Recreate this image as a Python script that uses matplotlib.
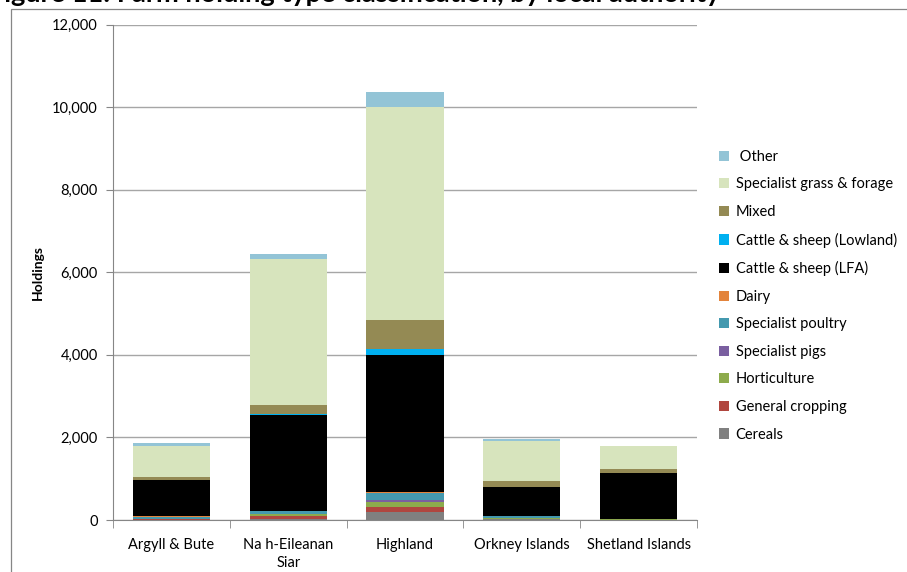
import numpy as np
import matplotlib
matplotlib.use("Agg")
import matplotlib.pyplot as plt
from matplotlib.patches import Rectangle, Patch
from matplotlib.ticker import FuncFormatter

plt.rcParams["font.family"] = ["Lato", "DejaVu Sans"]

categories = ["Argyll & Bute", "Na h-Eileanan\nSiar", "Highland", "Orkney Islands", "Shetland Islands"]

# holdings per farm type, bottom of stack first
cereals = [8, 15, 200, 25, 8]
general_cropping = [6, 70, 113, 10, 4]
horticulture = [10, 55, 121, 20, 4]
specialist_pigs = [4, 10, 56, 5, 2]
specialist_poultry = [40, 70, 160, 32, 8]
dairy = [32, 10, 20, 10, 2]
cattle_sheep_lfa = [864, 2313, 3333, 703, 1115]
cattle_sheep_lowland = [15, 20, 140, 5, 3]
mixed = [60, 227, 690, 145, 90]
grass_forage = [757, 3524, 5163, 953, 545]
other = [58, 130, 364, 48, 20]

series = [
    ("Cereals", cereals, "#808080"),
    ("General cropping", general_cropping, "#B0463F"),
    ("Horticulture", horticulture, "#8DAB4C"),
    ("Specialist pigs", specialist_pigs, "#7A5FA0"),
    ("Specialist poultry", specialist_poultry, "#4499AF"),
    ("Dairy", dairy, "#E3843C"),
    ("Cattle & sheep (LFA)", cattle_sheep_lfa, "#000000"),
    ("Cattle & sheep (Lowland)", cattle_sheep_lowland, "#00B0F0"),
    ("Mixed", mixed, "#948A54"),
    ("Specialist grass & forage", grass_forage, "#D7E4BD"),
    (" Other", other, "#93C4D6"),
]

W, H = 907, 572
fig = plt.figure(figsize=(W / 100, H / 100), dpi=100)
ax = fig.add_axes([113 / W, 1 - 520 / H, (697 - 113) / W, (520 - 24.5) / H])

x = np.arange(len(categories))
bottom = np.zeros(len(categories))
handles = []
for name, vals, col in series:
    ax.bar(x, vals, width=0.66, bottom=bottom, color=col, linewidth=0, zorder=2)
    bottom += np.array(vals, dtype=float)
    handles.append(Patch(facecolor=col, edgecolor="none", label=name))

ax.set_xlim(-0.5, len(categories) - 0.5)
ax.set_ylim(0, 12000)
ax.set_yticks(np.arange(0, 12001, 2000))
ax.yaxis.set_major_formatter(FuncFormatter(lambda v, p: f"{int(v):,}"))
ax.grid(axis="y", color="#A6A6A6", linewidth=1.0, zorder=0)

ax.set_xticks(x)
ax.set_xticklabels(categories, fontsize=10.5, linespacing=1.35)
ax.set_xticks(np.arange(-0.5, len(categories)), minor=True)
ax.tick_params(axis="x", which="major", length=0, pad=13)
ax.tick_params(axis="x", which="minor", length=6, color="#868686")
ax.tick_params(axis="y", length=5, color="#868686", labelsize=10.5, pad=6)

for s in ["top", "right"]:
    ax.spines[s].set_visible(False)
for s in ["left", "bottom"]:
    ax.spines[s].set_color("#868686")

ax.set_ylabel("Holdings", fontsize=10, fontweight="bold", labelpad=6)

ax.legend(
    handles=handles[::-1],
    loc="upper left",
    bbox_to_anchor=(713 / W, 1 - 144 / H),
    bbox_transform=fig.transFigure,
    frameon=False,
    fontsize=10.5,
    handlelength=0.7,
    handleheight=0.7,
    handletextpad=0.45,
    labelspacing=0.93,
    borderaxespad=0,
)

# chart frame and cropped title
fig.patches.append(Rectangle((10.5 / W, -0.1), 2, 1.1 - 8.5 / H, transform=fig.transFigure,
                             fill=False, edgecolor="#868686", linewidth=0.9))
fig.text(-0.012, 1 - 2.5 / H, "Figure 11: Farm holding type classification, by local authority",
         fontsize=19.5, fontweight="bold", va="baseline", ha="left")

fig.savefig("out.png", dpi=100)
